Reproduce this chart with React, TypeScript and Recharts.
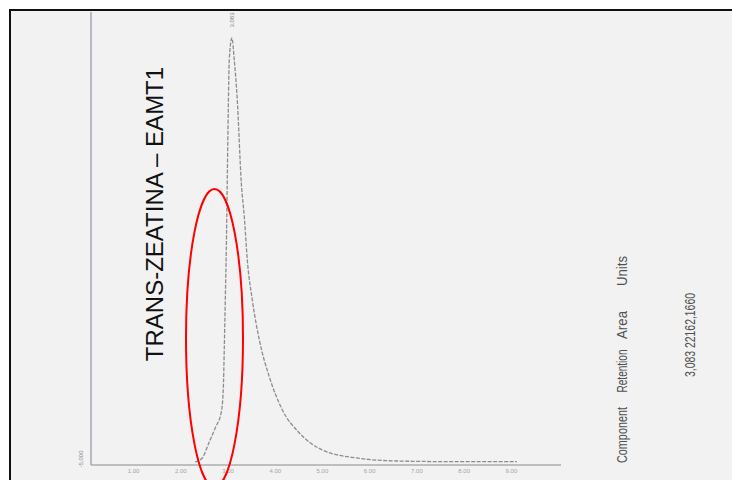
import React from "react";
import {
  LineChart,
  Line,
  XAxis,
  YAxis,
  ReferenceDot,
} from "recharts";

// Retention time (min) and detector response for the trans-zeatin trace
const times = [
  2.306, 2.455, 2.603, 2.73, 2.858, 2.9, 2.921, 2.943, 2.964, 2.985, 3.006,
  3.027, 3.083, 3.133, 3.197, 3.282, 3.346, 3.409, 3.515, 3.664, 3.876, 4.152,
  4.512, 5.0, 5.722, 6.57, 7.97, 9.116,
];
const response = [
  0, 6700, 33300, 56700, 83300, 120000, 186700, 270000, 353300, 470000,
  586700, 670000, 706700, 670000, 603300, 465000, 408300, 336700, 270000,
  203300, 141700, 86700, 48300, 20000, 6700, 1700, 500, 500,
];
const timeTicks = [1, 2, 3, 4, 5, 6, 7, 8, 9];
const responseTicks = [-5000];

const PEAK_RT = 3.083;
const PEAK_HEIGHT = 706700;

// Peak table
const tableHeaders = ["Component", "Retention", "Area", "Units"];
const tableRow = "3,083 22162,1660";
const title = "TRANS-ZEATINA \u2013 EAMT1";

const chartData = times.map((t, i) => ({ time: t, signal: response[i] }));

const axisColor = "#9c99aa";

const YTick = (props: any) => {
  const { x, y, payload } = props;
  const cx = x - 2;
  const cy = y - 6;
  return (
    <text
      x={cx}
      y={cy}
      transform={`rotate(-90 ${cx} ${cy})`}
      textAnchor="middle"
      dominantBaseline="central"
      fontSize={6}
      fill="#8d8d8d"
      fontFamily="Liberation Sans, Arial, sans-serif"
    >
      {payload.value.toLocaleString("en-US")}
    </text>
  );
};

const PeakLabel = (props: any) => {
  const vb = props.viewBox || {};
  const cx = vb.x;
  const cy = vb.y - 18;
  return (
    <text
      x={cx}
      y={cy}
      transform={`rotate(-90 ${cx} ${cy})`}
      textAnchor="middle"
      dominantBaseline="central"
      fontSize={6}
      fill="#7f7f8a"
      fontFamily="Liberation Sans, Arial, sans-serif"
    >
      {PEAK_RT.toFixed(3)}
    </text>
  );
};

export default function App() {
  return (
    <div
      style={{
        position: "absolute",
        left: 0,
        top: 0,
        width: 732,
        height: 480,
        background: "#ffffff",
        overflow: "hidden",
      }}
    >
      <div
        style={{
          position: "absolute",
          left: 9,
          top: 9,
          width: 740,
          height: 490,
          background: "#f2f2f2",
          borderTop: "2px solid #111",
          borderLeft: "2px solid #111",
        }}
      />
      <div style={{ position: "absolute", left: 0, top: 0 }}>
        <LineChart
          width={732}
          height={480}
          data={chartData}
          margin={{ top: 12, right: 171, left: 71, bottom: 0 }}
        >
          <XAxis
            dataKey="time"
            type="number"
            domain={[0.1, 10.05]}
            ticks={timeTicks}
            tickFormatter={(v: number) => v.toFixed(2)}
            tickLine={false}
            tickSize={2}
            height={15}
            axisLine={{ stroke: "#8a8a8a", strokeWidth: 1.2 }}
            tick={{
              fontSize: 6,
              fill: "#a2a2a2",
              fontFamily: "Liberation Sans, Arial, sans-serif",
            }}
          />
          <YAxis
            yAxisId="left"
            type="number"
            domain={[-5000, 750000]}
            ticks={responseTicks}
            width={20}
            tickLine={false}
            axisLine={{ stroke: axisColor, strokeWidth: 1.3 }}
            tick={<YTick />}
          />
          <YAxis
            yAxisId="right"
            orientation="right"
            type="number"
            domain={[-5000, 750000]}
            width={0}
            tick={false}
            tickLine={false}
            axisLine={{ stroke: axisColor, strokeWidth: 1.3 }}
          />
          <Line
            yAxisId="left"
            type="monotone"
            dataKey="signal"
            stroke="#8c8c8c"
            strokeWidth={1.3}
            strokeDasharray="4 1.5"
            dot={false}
            isAnimationActive={false}
          />
          <ReferenceDot
            yAxisId="left"
            x={PEAK_RT}
            y={PEAK_HEIGHT}
            r={0}
            stroke="none"
            label={<PeakLabel />}
          />
        </LineChart>
      </div>
      <svg
        width={732}
        height={480}
        style={{ position: "absolute", left: 0, top: 0, pointerEvents: "none" }}
      >
        <text
          x={154}
          y={214}
          transform="rotate(-90 154 214)"
          textAnchor="middle"
          dominantBaseline="central"
          fontSize={24}
          fill="#111"
          fontFamily="Liberation Sans, Arial, sans-serif"
        >
          {title}
        </text>
        <ellipse
          cx={214.5}
          cy={338}
          rx={28.5}
          ry={149}
          fill="none"
          stroke="#ff0000"
          strokeWidth={2}
        />
        {tableHeaders.map((h, i) => {
          const centers = [435, 371, 325, 271];
          const lengths = [56, 43, 28, 30];
          const cy = centers[i];
          return (
            <text
              key={h}
              x={621}
              y={cy}
              transform={`rotate(-90 621 ${cy})`}
              textAnchor="middle"
              dominantBaseline="central"
              fontSize={15}
              fill="#505050"
              textLength={lengths[i]}
              lengthAdjust="spacingAndGlyphs"
              fontFamily="Liberation Sans, Arial, sans-serif"
            >
              {h}
            </text>
          );
        })}
        <text
          x={690}
          y={335}
          transform="rotate(-90 690 335)"
          textAnchor="middle"
          dominantBaseline="central"
          fontSize={14}
          fill="#505050"
          textLength={84}
          lengthAdjust="spacingAndGlyphs"
          fontFamily="Liberation Sans, Arial, sans-serif"
        >
          {tableRow}
        </text>
      </svg>
    </div>
  );
}
